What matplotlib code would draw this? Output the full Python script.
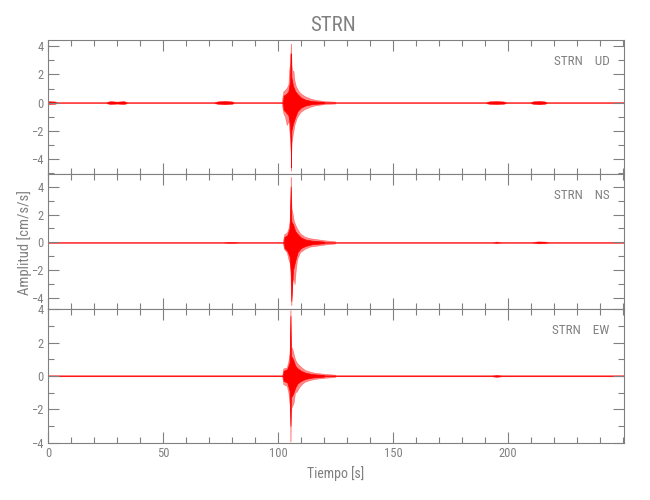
import matplotlib.pyplot as plt
from matplotlib.ticker import MultipleLocator, FixedLocator

station = "STRN"
components = ["UD", "NS", "EW"]
t_end = 250.4
x_major = [0, 50, 100, 150, 200]

# y range of each record (min / max)
y_min = [-5.1, -4.75, -4.03]
y_max = [4.45, 4.88, 4.03]

# background noise, half amplitude
ud_bg_t = [0, 3, 4, 25, 27, 30, 33, 34.5, 72, 74, 77, 80, 81, 190, 192, 195, 198, 199.5,
           209.5, 211, 213.5, 216, 217, 250.4]
ud_bg_amp = [0.1, 0.08, 0.03, 0.03, 0.1, 0.07, 0.1, 0.03, 0.03, 0.09, 0.12, 0.08, 0.03,
             0.03, 0.09, 0.11, 0.08, 0.03, 0.03, 0.09, 0.12, 0.08, 0.03, 0.03]
ns_bg_t = [0, 76, 78, 81, 83, 193, 195, 197, 210, 213, 216, 218, 250.4]
ns_bg_amp = [0.03, 0.03, 0.05, 0.05, 0.03, 0.03, 0.06, 0.03, 0.03, 0.07, 0.06, 0.03, 0.03]
ew_bg_t = [0, 193, 195, 197, 250.4]
ew_bg_amp = [0.03, 0.03, 0.06, 0.03, 0.03]

# main event, outer envelope
ud_ev_t = [101.6, 102.3, 103.0, 103.8, 104.5, 104.8, 105.2, 105.4, 105.55, 105.65, 105.8,
           105.9, 106.2, 106.7, 107.1, 107.7, 108.1, 108.8, 109.6, 110.3, 111.7, 113.9,
           116.1, 120.4, 124.8]
ud_ev_hi = [0.06, 0.8, 0.9, 1.06, 1.3, 2.25, 2.8, 3.5, 4.2, 3.4, 3.2, 2.6, 2.3, 2.25, 1.6,
            1.2, 1.06, 0.85, 0.7, 0.6, 0.45, 0.3, 0.2, 0.1, 0.07]
ud_ev_lo = [-0.06, -0.75, -1.0, -1.6, -1.3, -1.8, -2.5, -3.2, -3.6, -4.85, -3.2, -2.8, -2.5,
            -2.0, -1.6, -1.3, -1.1, -0.9, -0.7, -0.6, -0.45, -0.3, -0.2, -0.1, -0.07]
ns_ev_t = [102.0, 102.75, 103.8, 104.5, 105.1, 105.4, 105.5, 105.65, 105.8, 105.9, 106.2,
           106.4, 106.8, 107.2, 107.7, 108.3, 109.6, 111.7, 113.9, 116.1, 120.4, 124.8]
ns_ev_hi = [0.05, 0.6, 0.7, 1.0, 1.5, 2.5, 4.7, 3.5, 2.8, 2.4, 2.2, 2.0, 1.6, 1.4, 1.2, 1.0,
            0.65, 0.4, 0.3, 0.25, 0.15, 0.08]
ns_ev_lo = [-0.05, -0.5, -0.7, -1.2, -1.5, -2.2, -3.0, -3.6, -4.5, -3.5, -2.8, -2.7, -2.6,
            -3.0, -2.0, -1.2, -0.7, -0.45, -0.3, -0.25, -0.15, -0.08]
ew_ev_t = [101.8, 102.3, 103.8, 104.5, 105.1, 105.3, 105.4, 105.5, 105.8, 106.2, 106.8,
           107.4, 108.1, 109.1, 110.3, 111.7, 113.9, 116.1, 120.4, 124.8]
ew_ev_hi = [0.05, 0.45, 0.5, 0.9, 1.4, 2.0, 3.95, 2.5, 1.7, 1.65, 1.3, 1.0, 0.8, 0.65, 0.5,
            0.35, 0.25, 0.18, 0.12, 0.07]
ew_ev_lo = [-0.05, -0.5, -0.6, -1.0, -1.8, -2.2, -3.95, -3.0, -1.9, -1.8, -1.6, -1.0, -0.95,
            -0.7, -0.5, -0.35, -0.25, -0.18, -0.12, -0.07]

# main event, dense core
ud_core_t = [102.2, 102.4, 103.5, 104.5, 105.2, 105.5, 105.65, 105.8, 106.5, 107.5, 108.5,
             110.0, 112.0, 115.0, 120.0]
ud_core_hi = [0.05, 0.5, 0.6, 0.8, 1.5, 3.5, 2.5, 1.8, 1.2, 0.8, 0.6, 0.35, 0.2, 0.1, 0.05]
ud_core_lo = [-0.05, -0.5, -0.7, -0.9, -1.6, -3.0, -4.6, -2.0, -1.5, -1.0, -0.6, -0.35, -0.2,
              -0.1, -0.05]
ns_core_t = [102.6, 102.8, 104.0, 105.0, 105.5, 105.65, 105.8, 106.5, 107.5, 108.5, 110.0,
             112.0, 115.0, 120.0]
ns_core_hi = [0.05, 0.4, 0.5, 1.0, 4.0, 2.5, 1.5, 1.3, 0.8, 0.6, 0.35, 0.2, 0.12, 0.06]
ns_core_lo = [-0.05, -0.4, -0.6, -1.0, -2.0, -3.0, -4.2, -2.0, -1.3, -0.7, -0.4, -0.25, -0.12,
              -0.06]
ew_core_t = [102.2, 102.4, 104.0, 105.0, 105.4, 105.6, 106.5, 107.5, 108.5, 110.0, 112.0,
             115.0, 120.0]
ew_core_hi = [0.05, 0.3, 0.4, 0.8, 3.6, 1.2, 1.0, 0.6, 0.45, 0.3, 0.18, 0.1, 0.05]
ew_core_lo = [-0.05, -0.3, -0.4, -0.9, -3.0, -1.3, -1.1, -0.7, -0.45, -0.3, -0.18, -0.1, -0.05]

traces = [
    (ud_bg_t, ud_bg_amp, ud_ev_t, ud_ev_hi, ud_ev_lo, ud_core_t, ud_core_hi, ud_core_lo),
    (ns_bg_t, ns_bg_amp, ns_ev_t, ns_ev_hi, ns_ev_lo, ns_core_t, ns_core_hi, ns_core_lo),
    (ew_bg_t, ew_bg_amp, ew_ev_t, ew_ev_hi, ew_ev_lo, ew_core_t, ew_core_hi, ew_core_lo),
]

grey = "#808080"
plt.rcParams['font.family'] = ['Roboto Condensed', 'Liberation Sans Narrow', 'Liberation Sans']

fig, axes = plt.subplots(3, 1, figsize=(6.5, 5), dpi=100, sharex=True)
fig.subplots_adjust(left=48 / 650, right=624 / 650, top=1 - 40 / 500,
                    bottom=1 - 443 / 500, hspace=0)

for i, ax in enumerate(axes):
    bg_t, bg_amp, ev_t, ev_hi, ev_lo, core_t, core_hi, core_lo = traces[i]
    ax.fill_between(bg_t, [-a for a in bg_amp], bg_amp, color="red", lw=0.3)
    ax.fill_between(ev_t, ev_lo, ev_hi, color="red", alpha=0.45, lw=0.4)
    ax.fill_between(core_t, core_lo, core_hi, color="red", lw=0.5)

    ax.set_xlim(0, t_end)
    ax.set_ylim(y_min[i], y_max[i])
    ax.xaxis.set_major_locator(FixedLocator(x_major))
    ax.xaxis.set_minor_locator(MultipleLocator(10))
    ax.yaxis.set_major_locator(MultipleLocator(2))
    ax.yaxis.set_minor_locator(MultipleLocator(1))
    ax.tick_params(which="both", direction="in", top=True, right=True,
                   color=grey, labelcolor=grey, labelsize=9, width=0.8)
    ax.tick_params(which="major", length=8, pad=3)
    ax.tick_params(which="minor", length=4)
    for sp in ax.spines.values():
        sp.set_color(grey)
        sp.set_linewidth(0.8)

    ax.text(0.975, 0.84, f"{station}    {components[i]}", transform=ax.transAxes,
            ha="right", va="center", color=grey, fontsize=9.5)

axes[-1].set_xlabel("Tiempo [s]", color=grey, fontsize=10, labelpad=4)
fig.text(0.038, 0.515, "Amplitud [cm/s/s]", rotation=90, ha="center", va="center",
         color=grey, fontsize=10.5)
fig.suptitle(station, x=0.512, y=0.968, color=grey, fontsize=15)

fig.savefig("out.png", dpi=100)
